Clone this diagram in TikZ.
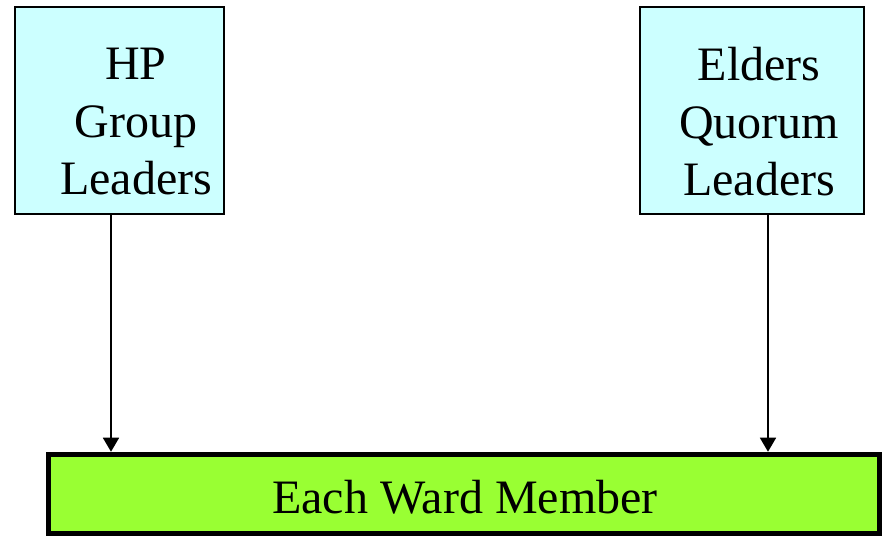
\documentclass[tikz,border=0pt]{standalone}
\usepackage{fontspec}
\setmainfont{Liberation Serif}
\usetikzlibrary{arrows.meta}
\definecolor{leadcyan}{HTML}{CCFFFF}
\definecolor{membergreen}{HTML}{99FF33}
\begin{document}
\begin{tikzpicture}[x=1pt,y=-1pt,
    leadbox/.style={draw,fill=leadcyan,line width=1.2pt,minimum height=207pt},
    bigtext/.style={align=center,font=\fontsize{48}{57.5}\selectfont,inner sep=0pt},
    arr/.style={-{Triangle[length=14pt,width=16pt]},line width=1.5pt}]
        \useasboundingbox (0,0) rectangle (887,537);
        \node[leadbox,minimum width=209pt] (hp) at (119.5,110.5) {};
        \node[bigtext] (hptxt) at (136,122) {HP\\Group\\Leaders};
        \node[leadbox,minimum width=224pt] (eq) at (752,110.5) {};
        \node[bigtext] (eqtxt) at (759,122) {Elders\\Quorum\\Leaders};
        
        \node[draw,fill=membergreen,line width=5.5pt,minimum width=831pt,minimum height=79pt] (member) at (464,494) {};
        \node[bigtext,anchor=base] (membertxt) at (465,513) {Each Ward Member};
        
        \draw[arr] ([xshift=-8.5pt]hp.south) -- ([xshift=-8.5pt]hp.south |- member.north);
        \draw[arr] ([xshift=16pt]eq.south) -- ([xshift=16pt]eq.south |- member.north);
        
    \end{tikzpicture}
\end{document}
